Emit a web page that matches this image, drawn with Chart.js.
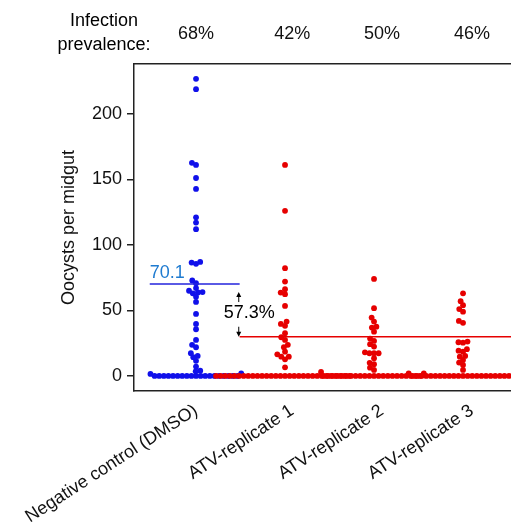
<!DOCTYPE html>
<html>
<head>
<meta charset="utf-8">
<script src="https://cdn.jsdelivr.net/npm/chart.js@4.4.1/dist/chart.umd.min.js"></script>
<style>
  html, body { margin: 0; padding: 0; background: #fff; }
  canvas { display: block; }
</style>
</head>
<body>
<canvas id="chart" width="511" height="530"></canvas>
<script>
  // Gruppen und Infektionsprävalenz (oben über dem Plot)
  const groups = ['Negative control (DMSO)', 'ATV-replicate 1', 'ATV-replicate 2', 'ATV-replicate 3'];
  const prevalence = ['68%', '42%', '50%', '46%'];
  const yTicks = [0, 50, 100, 150, 200];

  // Oozysten pro Mitteldarm
  const negControl = [
    226.7, 218.8, 162.6, 161, 151, 142.7, 121, 117, 112, 87, 86.5, 85.5,
    72.8, 70.8, 67, 65, 64, 63.7, 63, 60.5, 56.5, 47.3, 39.7, 35.6,
    27.5, 23.7, 21.9, 17.3, 15.3, 14.3, 11.5, 7.1, 4, 3.5, 2, 1.5,
    0, 0, 0, 0, 0, 0, 0, 0, 0, 0, 0, 0, 0, 0, 0, 0, 0, 0, 0
  ];
  const atvRep1 = [
    161, 126, 82.2, 72, 66.2, 63.6, 62.4, 53.4, 41.5, 39.7, 38.2, 32.6,
    29.5, 27.5, 23.7, 21.9, 18.5, 16.5, 14.7, 14.7, 12.7, 6.6,
    0, 0, 0, 0, 0, 0, 0, 0, 0, 0, 0, 0, 0, 0, 0, 0, 0, 0, 0, 0,
    0, 0, 0, 0, 0, 0, 0, 0, 0, 0
  ];
  const atvRep2 = [
    74, 51.7, 44.5, 41.5, 37.6, 36.9, 33.8, 28.5, 26.7, 24.2, 22.4, 18,
    17.3, 17.3, 17.3, 13.5, 10, 8.9, 6.3, 4.6, 3, 2,
    0, 0, 0, 0, 0, 0, 0, 0, 0, 0, 0, 0, 0, 0, 0, 0, 0, 0, 0, 0,
    0, 0
  ];
  const atvRep3 = [
    63, 57, 54, 51, 49, 42, 40.5, 26.2, 25.7, 25.4, 20.4, 19.3,
    18.5, 15.3, 14.7, 12.2, 10.2, 8.4, 4.6, 2,
    0, 0, 0, 0, 0, 0, 0, 0, 0, 0, 0, 0, 0, 0, 0, 0, 0, 0, 0, 0,
    0, 0, 0
  ];

  const controlMean = 70.1;
  const treatedMean = 29.9;
  const reductionLabel = '57.3%';

  const BLUE = '#1010ea';
  const RED = '#e60000';
  const INK = '#222222';
  const FONT = '"Liberation Sans", Arial, Helvetica, sans-serif';

  Chart.defaults.font.family = FONT;
  Chart.defaults.font.size = 18;
  Chart.defaults.color = '#111';

  function points(values, groupIndex) {
    return values.map((v) => ({ x: groupIndex, y: v }));
  }

  function dotSet(values, groupIndex, color, order) {
    return {
      data: points(values, groupIndex),
      groupIndex: groupIndex,
      backgroundColor: color,
      borderWidth: 0,
      pointRadius: 2.9,
      pointHoverRadius: 2.9,
      order: order,
    };
  }

  function meanLine(y, x0, x1, color) {
    return {
      data: [{ x: x0, y: y }, { x: x1, y: y }],
      showLine: true,
      borderColor: color,
      borderWidth: 1.6,
      pointRadius: 0,
      order: 0,
    };
  }

  // Beeswarm: aufsteigend platzieren, jeweils die Position am nächsten zur Mitte
  function swarm(pixelsY, d) {
    const idx = pixelsY.map((_, i) => i).sort((a, b) => pixelsY[b] - pixelsY[a]);
    const placed = [];
    const out = new Array(pixelsY.length);
    for (const i of idx) {
      const y = pixelsY[i];
      const near = placed.filter((p) => Math.abs(p.y - y) < d);
      const cands = [0];
      near.forEach((p) => {
        const dx = Math.sqrt(d * d - (p.y - y) * (p.y - y));
        cands.push(p.x + dx, p.x - dx);
      });
      cands.sort((a, b) => Math.abs(a) - Math.abs(b) || a - b);
      const x = cands.find((c) =>
        near.every((p) => (p.x - c) * (p.x - c) + (p.y - y) * (p.y - y) >= d * d - 1e-6)
      );
      placed.push({ x: x, y: y });
      out[i] = x;
    }
    return out;
  }

  const annotations = {
    id: 'annotations',
    afterDraw(chart) {
      const { ctx, scales } = chart;
      const xs = scales.x;
      const ys = scales.y;
      const yBlue = ys.getPixelForValue(controlMean);
      const yRed = ys.getPixelForValue(treatedMean);
      const xArrow = xs.getPixelForValue(0.48);
      ctx.save();
      ctx.font = '18px ' + FONT;

      ctx.fillStyle = '#1f7bd0';
      ctx.textAlign = 'left';
      ctx.textBaseline = 'alphabetic';
      ctx.fillText(String(controlMean), xs.getPixelForValue(-0.52), yBlue - 6);

      ctx.fillStyle = '#000';
      ctx.textBaseline = 'middle';
      ctx.fillText(reductionLabel, xArrow - 15, (yBlue + yRed) / 2 + 3);

      // Pfeile
      ctx.strokeStyle = '#000';
      ctx.lineWidth = 1;
      ctx.beginPath();
      ctx.moveTo(xArrow, yBlue + 10);
      ctx.lineTo(xArrow, yBlue + 18);
      ctx.moveTo(xArrow, yRed - 10);
      ctx.lineTo(xArrow, yRed - 2);
      ctx.stroke();
      ctx.fillStyle = '#000';
      ctx.beginPath();
      ctx.moveTo(xArrow, yBlue + 8);
      ctx.lineTo(xArrow - 2.5, yBlue + 13);
      ctx.lineTo(xArrow + 2.5, yBlue + 13);
      ctx.closePath();
      ctx.moveTo(xArrow, yRed);
      ctx.lineTo(xArrow - 2.5, yRed - 5);
      ctx.lineTo(xArrow + 2.5, yRed - 5);
      ctx.closePath();
      ctx.fill();

      ctx.textAlign = 'center';
      ctx.textBaseline = 'middle';
      ctx.fillText('Infection', 104, 21);
      ctx.fillText('prevalence:', 104, 45);
      ctx.restore();
    },
  };

  const X_MIN = -0.697;
  const X_MAX = 3.539;
  const labelTicks = [0, 1.08, 2.09, 3.1];

  const chart = new Chart(document.getElementById('chart'), {
    type: 'scatter',
    data: {
      datasets: [
        meanLine(controlMean, -0.52, 0.49, '#2323dc'),
        meanLine(treatedMean, 0.49, 3.6, RED),
        dotSet(atvRep3, 3, RED, 1),
        dotSet(atvRep2, 2, RED, 2),
        dotSet(atvRep1, 1, RED, 3),
        dotSet(negControl, 0, BLUE, 4),
      ],
    },
    options: {
      responsive: false,
      animation: false,
      events: [],
      layout: { autoPadding: false, padding: 0 },
      plugins: { legend: { display: false }, tooltip: { enabled: false } },
      scales: {
        x: {
          type: 'linear',
          position: 'bottom',
          min: X_MIN,
          max: X_MAX,
          afterBuildTicks: (axis) => { axis.ticks = labelTicks.map((v) => ({ value: v })); },
          afterFit: (axis) => {
            axis.height = 139;
            axis.paddingLeft = 0;
            axis.paddingRight = 0;
          },
          grid: { display: false, drawTicks: false },
          border: { display: true, color: INK, width: 1.5 },
          ticks: {
            autoSkip: false,
            minRotation: 33,
            maxRotation: 33,
            padding: 9,
            color: '#111',
            callback: (value, index) => groups[index],
          },
        },
        x2: {
          type: 'linear',
          position: 'top',
          min: X_MIN,
          max: X_MAX,
          afterBuildTicks: (axis) => { axis.ticks = labelTicks.map((v) => ({ value: v })); },
          afterFit: (axis) => {
            axis.height = 64;
            axis.paddingLeft = 0;
            axis.paddingRight = 0;
          },
          grid: { display: false, drawTicks: false },
          border: { display: true, color: INK, width: 1.5 },
          ticks: {
            autoSkip: false,
            maxRotation: 0,
            padding: 19,
            color: '#111',
            callback: (value, index) => prevalence[index],
          },
        },
        y: {
          min: -11.5,
          max: 238,
          afterBuildTicks: (axis) => { axis.ticks = yTicks.map((v) => ({ value: v })); },
          afterFit: (axis) => { axis.width = 134; },
          grid: { drawOnChartArea: false, drawTicks: true, tickLength: 7, color: INK, lineWidth: 1.5 },
          border: { display: true, color: INK, width: 1.5 },
          ticks: { padding: 5, color: '#111' },
          title: {
            display: true,
            text: 'Oocysts per midgut',
            color: '#111',
            font: { size: 18 },
            padding: { top: 58, bottom: 0 },
          },
        },
      },
    },
    plugins: [annotations],
  });

  // Zweiter Durchlauf: Schwarm-Versatz über die Pixel-Skalen berechnen
  const xs = chart.scales.x;
  const ys = chart.scales.y;
  const unit = xs.getPixelForValue(1) - xs.getPixelForValue(0);
  chart.data.datasets.forEach((ds) => {
    if (ds.groupIndex === undefined) return;
    const py = ds.data.map((p) => ys.getPixelForValue(p.y));
    const off = swarm(py, 4.6);
    ds.data.forEach((p, k) => { p.x = ds.groupIndex + off[k] / unit; });
  });
  chart.update('none');
</script>
</body>
</html>
